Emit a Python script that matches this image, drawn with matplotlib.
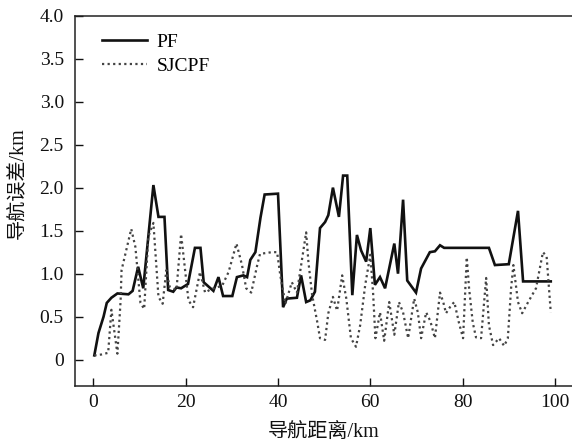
import matplotlib
matplotlib.use("Agg")
import matplotlib.pyplot as plt

# PF (solid)
pf_x = [0.2, 1.1, 2.2, 2.9, 3.9, 5.2, 7.6, 8.5, 9.7, 10.8, 13.0, 14.1, 15.4, 16.2, 17.3, 18.0, 19.0, 20.5,
        22.0, 23.2, 23.9, 26.0, 27.1, 28.1, 30.1, 31.1, 32.5, 33.3, 34.0, 35.1, 36.2, 37.1, 40.0, 41.1,
        41.9, 44.1, 45.0, 46.1, 47.0, 48.0, 49.1, 50.2, 50.9, 51.9, 53.2, 54.1, 55.0, 56.1, 57.1, 58.0,
        59.1, 60.0, 61.0, 62.1, 63.2, 65.2, 66.0, 67.1, 68.0, 69.9, 71.0, 72.9, 74.0, 75.1, 76.0, 85.7,
        87.0, 90.0, 92.0, 93.1, 99.1]
pf_y = [0.05, 0.31, 0.50, 0.66, 0.72, 0.77, 0.76, 0.80, 1.08, 0.83, 2.03, 1.66, 1.66, 0.81, 0.79, 0.84, 0.83, 0.88,
        1.30, 1.30, 0.90, 0.80, 0.96, 0.74, 0.74, 0.96, 0.98, 0.96, 1.16, 1.25, 1.65, 1.92, 1.93, 0.61,
        0.71, 0.72, 0.98, 0.67, 0.69, 0.79, 1.53, 1.60, 1.68, 2.00, 1.66, 2.14, 2.14, 0.75, 1.45, 1.27,
        1.14, 1.53, 0.87, 0.96, 0.83, 1.35, 1.00, 1.86, 0.92, 0.78, 1.06, 1.25, 1.26, 1.33, 1.30, 1.30,
        1.10, 1.11, 1.73, 0.91, 0.91]

# SJCPF (dotted)
sj_x = [0.2, 1.7, 3.2, 3.9, 5.2, 5.9, 6.1, 8.2, 9.1, 10.2, 11.0, 11.9, 13.0, 14.1, 15.0, 15.8, 16.5, 18.0,
        19.0, 20.6, 21.6, 23.1, 24.2, 25.5, 27.9, 29.3, 31.0, 32.2, 33.1, 34.2, 35.5, 36.1, 38.7, 39.8,
        40.5, 41.6, 43.0, 44.1, 46.1, 46.6, 47.4, 48.5, 49.1, 50.2, 50.9, 51.9, 52.8, 53.9, 54.8, 55.8,
        56.9, 57.8, 58.9, 60.0, 60.6, 61.1, 62.1, 63.0, 64.1, 65.2, 66.2, 67.1, 68.2, 69.5, 70.3, 71.0,
        72.1, 73.0, 74.0, 75.1, 75.8, 76.4, 77.5, 78.2, 79.2, 80.1, 80.9, 81.4, 82.2, 82.9, 84.0, 85.1,
        85.7, 86.6, 87.9, 89.0, 89.8, 90.5, 91.0, 92.0, 92.9, 94.2, 95.9, 97.4, 98.2, 99.1]
sj_y = [0.05, 0.06, 0.08, 0.58, 0.07, 0.69, 1.04, 1.52, 1.31, 0.66, 0.59, 1.43, 1.59, 0.73, 0.65, 1.04, 0.85, 0.81,
        1.46, 0.69, 0.61, 1.02, 0.78, 0.82, 0.86, 1.02, 1.35, 1.10, 0.83, 0.78, 1.10, 1.23, 1.25, 1.25,
        0.98, 0.65, 0.90, 0.78, 1.48, 1.13, 0.75, 0.44, 0.25, 0.23, 0.54, 0.73, 0.57, 0.98, 0.71, 0.25,
        0.15, 0.40, 0.87, 1.22, 0.78, 0.25, 0.55, 0.22, 0.67, 0.29, 0.67, 0.55, 0.25, 0.71, 0.55, 0.25,
        0.55, 0.45, 0.25, 0.78, 0.67, 0.54, 0.63, 0.67, 0.43, 0.25, 1.19, 0.83, 0.43, 0.26, 0.25, 0.95,
        0.40, 0.17, 0.25, 0.16, 0.25, 0.83, 1.10, 0.67, 0.54, 0.67, 0.83, 1.25, 1.20, 0.55]

series_labels = ["PF", "SJCPF"]
x_ticks = [0, 20, 40, 60, 80, 100]
y_ticks = [0, 0.5, 1.0, 1.5, 2.0, 2.5, 3.0, 3.5, 4.0]
y_tick_labels = ["0", "0.5", "1.0", "1.5", "2.0", "2.5", "3.0", "3.5", "4.0"]
x_label = "导航距离/km"
y_label = "导航误差/km"

fam = ["Liberation Serif", "Noto Sans CJK SC"]
plt.rcParams["font.family"] = fam

fig = plt.figure(figsize=(5.72, 4.45), dpi=100)
ax = fig.add_axes([0.131, 0.1337, 0.869, 0.8313])

ax.plot(pf_x, pf_y, color="#111111", lw=1.9, label=series_labels[0], solid_joinstyle="miter")
ax.plot(sj_x, sj_y, color="#444444", lw=1.6, linestyle=(0, (1, 1.5)), label=series_labels[1])

ax.set_xlim(-4, 103.7)
ax.set_ylim(-0.3, 4.0)
ax.set_xticks(x_ticks)
ax.set_yticks(y_ticks)
ax.set_yticklabels(y_tick_labels)
ax.tick_params(direction="in", length=6, width=1.0, labelsize=14, colors="#111111")
ax.tick_params(axis="y", pad=8)
ax.tick_params(axis="x", pad=6)

for s in ["left", "bottom", "top"]:
    ax.spines[s].set_linewidth(1.1)
    ax.spines[s].set_color("#222222")
ax.spines["right"].set_visible(False)

ax.set_xlabel(x_label, fontsize=14.5, labelpad=9, color="#111111")
ax.set_ylabel(y_label, fontsize=14.5, labelpad=4, color="#111111")
ax.yaxis.set_label_coords(-0.095, 0.547)

leg = ax.legend(loc="upper left", frameon=False, fontsize=14, handlelength=2.3,
                bbox_to_anchor=(0.02, 1.0), labelspacing=0.35, handletextpad=0.5)

fig.savefig("out.png", dpi=100)
